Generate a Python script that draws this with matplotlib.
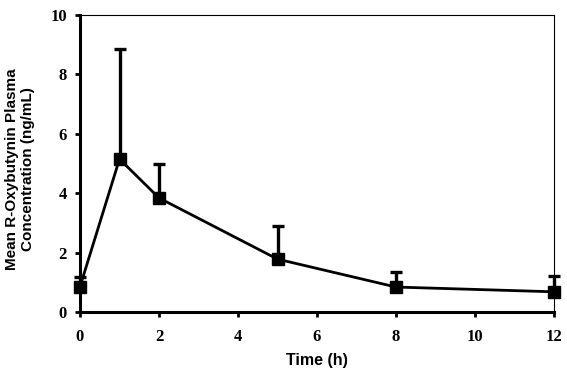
import matplotlib
matplotlib.use("Agg")
import matplotlib.pyplot as plt
from matplotlib import font_manager as fm

time_h = [0, 1, 2, 5, 8, 12]
mean_conc = [0.85, 5.15, 3.84, 1.78, 0.84, 0.68]
sd_upper = [0.33, 3.72, 1.13, 1.12, 0.52, 0.52]
x_ticks = [0, 2, 4, 6, 8, 10, 12]
y_ticks = [0, 2, 4, 6, 8, 10]

sans_path = fm.findfont(fm.FontProperties(family='Liberation Sans', weight='bold', stretch='normal'))
serif_path = fm.findfont(fm.FontProperties(family='Liberation Serif', weight='bold', stretch='normal'))
ysans = fm.FontProperties(fname=sans_path, size=11)
xsans = fm.FontProperties(fname=sans_path, size=11.5)
serif = fm.FontProperties(fname=serif_path, size=12)

fig = plt.figure(figsize=(5.67, 3.74), dpi=100)
ax = fig.add_axes([80/567, 62/374, (554-80)/567, (312-15)/374])

ax.errorbar(time_h, mean_conc, yerr=[[0]*len(sd_upper), sd_upper],
            color='black', linewidth=2.0, marker='s', markersize=8.5,
            elinewidth=2.4, capsize=4.5, capthick=2.4, zorder=3, clip_on=False)

ax.set_xlim(0, 12)
ax.set_ylim(0, 10)
ax.set_xticks(x_ticks)
ax.set_yticks(y_ticks)

for side in ['left', 'bottom']:
    ax.spines[side].set_linewidth(2.2)
for side in ['top', 'right']:
    ax.spines[side].set_linewidth(0.8)

ax.tick_params(axis='both', direction='out', length=3.5, width=2)
ax.tick_params(axis='y', pad=6)
ax.tick_params(axis='x', pad=9)
for lab in ax.get_xticklabels() + ax.get_yticklabels():
    lab.set_fontproperties(serif)

ax.set_xlabel('Time (h)', fontproperties=xsans)
ax.xaxis.set_label_coords(0.5, -(353 - 312) / 297)
ax.xaxis.label.set_va('top')
ax.set_ylabel('Mean R-Oxybutynin Plasma\nConcentration (ng/mL)', fontproperties=ysans)
ax.yaxis.set_label_coords((20 - 80) / 474, 0.48)
ax.yaxis.label.set_va('center')

fig.savefig('out.png', dpi=100)
